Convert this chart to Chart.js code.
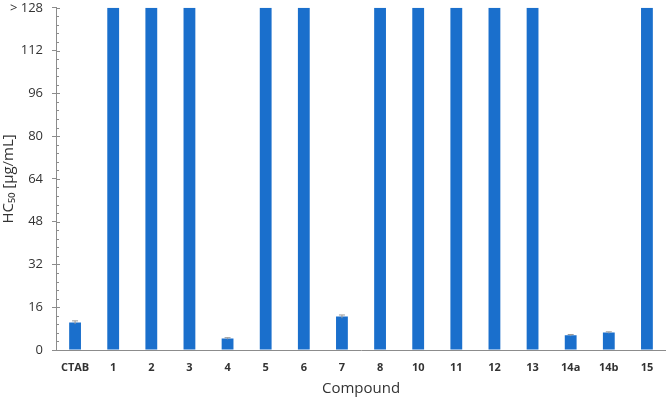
<!DOCTYPE html>
<html>
<head>
<meta charset="utf-8">
<script src="https://cdn.jsdelivr.net/npm/chart.js@4.4.1/dist/chart.umd.min.js"></script>
<style>
  html, body { margin: 0; padding: 0; background: #fff; overflow: hidden; }
  #wrap { width: 666px; height: 407px; margin-top: -9px; }
</style>
</head>
<body>
<div id="wrap"><canvas id="chart"></canvas></div>
<script>
// compounds on the x axis
const compounds = ['CTAB', '1', '2', '3', '4', '5', '6', '7', '8', '10', '11', '12', '13', '14a', '14b', '15'];
// HC50 values, 128 means "> 128"
const hc50 = [10.3, 128, 128, 128, 4.3, 128, 128, 12.5, 128, 128, 128, 128, 128, 5.5, 6.5, 128];
// error bar half heights
const hc50Err = [0.6, 0, 0, 0, 0.3, 0, 0, 0.6, 0, 0, 0, 0, 0, 0.3, 0.3, 0];
const yTicks = [0, 16, 32, 48, 64, 80, 96, 112, 128];
const minorStep = 3.2;

const barColor = '#1a6fcc';
const axisColor = '#8c8c8c';
const textColor = '#333333';

// minor ticks inside the axis + error bars
const extras = {
    id: 'extras',
    afterDatasetsDraw(chart) {
        const ctx = chart.ctx;
        const y = chart.scales.y;
        const x = chart.scales.x;
        const left = chart.chartArea.left;
        ctx.save();
        ctx.strokeStyle = axisColor;
        ctx.lineWidth = 1;
        for (let v = 0; v <= 128.01; v += minorStep) {
            const py = Math.round(y.getPixelForValue(v)) + 0.5;
            ctx.beginPath();
            ctx.moveTo(left, py);
            ctx.lineTo(left + 3, py);
            ctx.stroke();
        }
        yTicks.forEach(v => {
            const py = Math.round(y.getPixelForValue(v)) + 0.5;
            ctx.beginPath();
            ctx.moveTo(left, py);
            ctx.lineTo(left + 4, py);
            ctx.stroke();
        });
        // error bars
        ctx.strokeStyle = '#999999';
        hc50.forEach((v, i) => {
            const e = hc50Err[i];
            if (!e) return;
            const px = x.getPixelForValue(i);
            const top = y.getPixelForValue(v + e);
            const bot = y.getPixelForValue(v - e);
            ctx.beginPath();
            ctx.moveTo(px, top);
            ctx.lineTo(px, bot);
            ctx.moveTo(px - 3, top);
            ctx.lineTo(px + 3, top);
            ctx.stroke();
        });
        ctx.restore();
    }
};

new Chart(document.getElementById('chart'), {
    type: 'bar',
    data: {
        labels: compounds,
        datasets: [{
            data: hc50,
            backgroundColor: barColor,
            borderWidth: 0,
            categoryPercentage: 1,
            barPercentage: 0.31
        }]
    },
    options: {
        responsive: true,
        maintainAspectRatio: false,
        animation: false,
        layout: { padding: 0 },
        plugins: {
            legend: { display: false },
            tooltip: { enabled: false }
        },
        scales: {
            x: {
                afterFit(scale) { scale.height = 48; },
                grid: { display: false, drawTicks: false },
                border: { color: axisColor, width: 1 },
                ticks: {
                    color: textColor,
                    padding: 11,
                    font: { family: 'Open Sans', size: 11, weight: 'bold' }
                },
                title: {
                    display: true,
                    text: 'Compound',
                    color: textColor,
                    padding: 0,
                    font: { family: 'Open Sans', size: 15 }
                }
            },
            y: {
                min: 0,
                max: 128,
                afterFit(scale) { scale.width = 56; },
                afterBuildTicks(axis) {
                    axis.ticks = yTicks.map(v => ({ value: v }));
                },
                grid: {
                    drawOnChartArea: false,
                    tickLength: 4,
                    color: axisColor
                },
                border: { color: axisColor, width: 1 },
                ticks: {
                    color: textColor,
                    padding: 9,
                    font: { family: 'Open Sans', size: 13 },
                    callback: function (value) {
                        return value === 128 ? '> 128' : value;
                    }
                },
                title: {
                    display: true,
                    text: 'HC\u2085\u2080 [\u00b5g/mL]',
                    color: textColor,
                    padding: 0,
                    font: { family: 'Open Sans', size: 15 }
                }
            }
        }
    },
    plugins: [extras]
});
</script>
</body>
</html>
